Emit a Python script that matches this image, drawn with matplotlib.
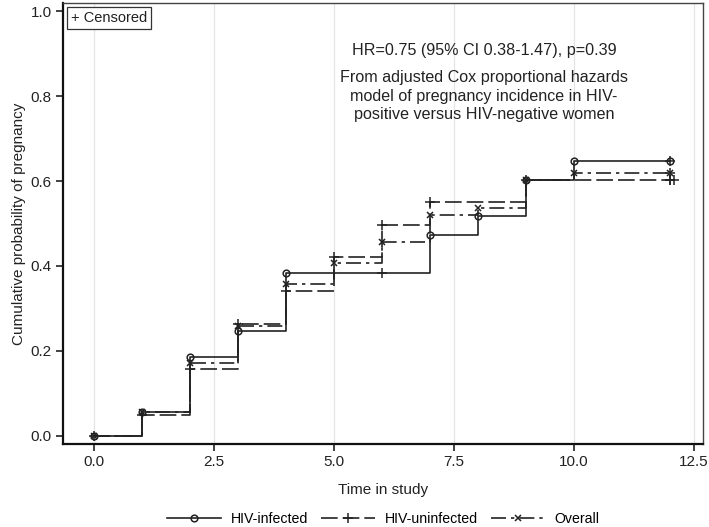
import numpy as np
import matplotlib
matplotlib.use("Agg")
import matplotlib.pyplot as plt
from matplotlib.lines import Line2D

plt.rcParams["font.family"] = ["Liberation Sans", "DejaVu Sans"]
plt.rcParams["font.size"] = 11

# Kaplan-Meier style cumulative probabilities
times = [0, 1, 2, 3, 4, 5, 6, 7, 8, 9, 10, 12]
infected = [0, 0.056, 0.184, 0.246, 0.384, 0.384, 0.384, 0.473, 0.518, 0.603, 0.647, 0.647]
uninfected = [0, 0.049, 0.156, 0.262, 0.341, 0.420, 0.497, 0.551, 0.551, 0.603, 0.603, 0.603]
overall = [0, 0.055, 0.170, 0.258, 0.357, 0.406, 0.457, 0.520, 0.536, 0.603, 0.620, 0.620]

# censoring times per group
cens_infected = [6, 12]
cens_uninfected = [12, 12.08]
cens_overall = [12]

labels = ["HIV-infected", "HIV-uninfected", "Overall"]
hr_text = "HR=0.75 (95% CI 0.38-1.47), p=0.39"
note_text = ("From adjusted Cox proportional hazards\n"
             "model of pregnancy incidence in HIV-\n"
             "positive versus HIV-negative women")

ink = "#222222"
styles = [
    dict(ls="-", marker="o", ms=4.8),
    dict(ls=(0, (10, 3)), marker="+", ms=7),
    dict(ls=(0, (9, 3, 2, 3)), marker="x", ms=5),
]


def event_points(t, s):
    # marker at every time where the curve steps (plus start and end)
    t = np.asarray(t, float)
    s = np.asarray(s, float)
    keep = np.r_[True, np.diff(s) != 0]
    keep[-1] = True
    return t[keep], s[keep]


def value_at(t, s, x):
    idx = np.searchsorted(t, x, side="right") - 1
    return np.asarray(s)[idx]


fig = plt.figure(figsize=(7.09, 5.27), dpi=100)
fig.subplots_adjust(left=0.0884, right=0.9915, top=0.9943, bottom=0.1575)
ax = fig.add_subplot(111)

ax.set_xlim(-0.646, 12.69)
ax.set_ylim(-0.02, 1.02)
ax.set_xticks([0, 2.5, 5, 7.5, 10, 12.5])
ax.set_xticklabels(["0.0", "2.5", "5.0", "7.5", "10.0", "12.5"])
ax.set_yticks([0, 0.2, 0.4, 0.6, 0.8, 1.0])
ax.set_yticklabels(["0.0", "0.2", "0.4", "0.6", "0.8", "1.0"])
ax.grid(axis="x", color="#e4e4e4", lw=0.9)
ax.set_axisbelow(True)

series = [(infected, cens_infected), (uninfected, cens_uninfected), (overall, cens_overall)]
handles = []
for (vals, cens), st, lab in zip(series, styles, labels):
    ax.step(times, vals, where="post", color=ink, lw=1.2, ls=st["ls"])
    ex, ey = event_points(times, vals)
    ax.plot(ex, ey, ls="none", marker=st["marker"], ms=st["ms"],
            mfc="none", mec=ink, mew=1.1)
    cx = np.asarray(cens, float)
    cy = value_at(np.asarray(times, float), vals, cx)
    ax.plot(cx, cy, ls="none", marker="+", ms=7, mec=ink, mew=1.1)
    handles.append(Line2D([], [], color=ink, lw=1.2, ls=st["ls"],
                          marker=st["marker"], ms=st["ms"],
                          mfc="none", mec=ink, mew=1.1))

for side in ["left", "bottom"]:
    ax.spines[side].set_linewidth(1.6)
    ax.spines[side].set_color("#111111")
for side in ["top", "right"]:
    ax.spines[side].set_linewidth(1.0)
    ax.spines[side].set_color("#444444")
ax.tick_params(length=5, width=1.2, colors=ink, labelsize=11, pad=3)

ax.set_xlabel("Time in study", fontsize=11, labelpad=10, color=ink)
ax.set_ylabel("Cumulative probability of pregnancy", fontsize=11, labelpad=3, color=ink)

ax.text(0.013, 0.982, "+ Censored", transform=ax.transAxes, ha="left", va="top",
        fontsize=10.5, color=ink,
        bbox=dict(boxstyle="square,pad=0.25", fc="white", ec="#333333", lw=0.9))
ax.text(8.13, 0.909, hr_text, ha="center", va="center", fontsize=11.6, color=ink)
ax.text(8.13, 0.80, note_text, ha="center", va="center", fontsize=11.6,
        color=ink, linespacing=1.3)

fig.legend(handles, labels, loc="lower center", bbox_to_anchor=(0.541, -0.022),
           ncol=3, frameon=False, fontsize=10.2, handlelength=3.8,
           columnspacing=0.9, handletextpad=0.7)

fig.savefig("out.png", dpi=100)
